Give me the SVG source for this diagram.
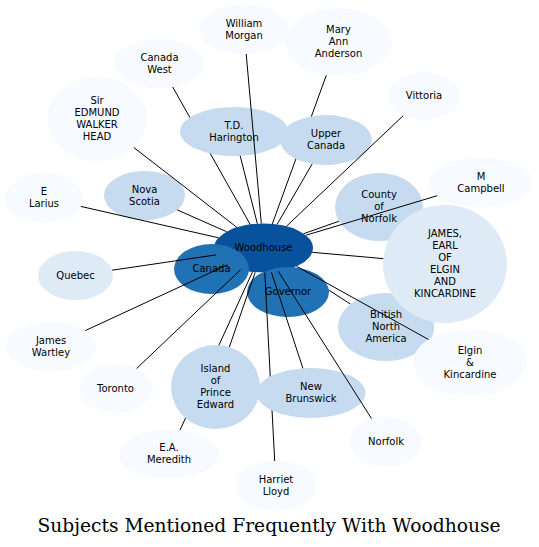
<svg xmlns="http://www.w3.org/2000/svg" width="539" height="547" viewBox="0 0 539 547">
<style>
  .lbl { font-family: "DejaVu Sans", "Noto Sans", sans-serif; font-size: 10px; text-anchor: middle; fill: #000000; }
  .title { font-family: "DejaVu Serif", "Liberation Serif", serif; font-size: 18.67px; text-anchor: middle; fill: #000000; }
  .edges path { stroke: #000000; stroke-width: 1; fill: none; }
  .c0 { fill: #f7fbff; }
  .c1 { fill: #deebf7; }
  .c2 { fill: #c6dbef; }
  .c6 { fill: #2171b5; }
  .c7 { fill: #08519c; }
</style>
<rect x="0" y="0" width="539" height="547" fill="#ffffff"/>

<g id="node-woodhouse"><ellipse class="c7" cx="263.5" cy="248" rx="49.5" ry="24.5"/><text class="lbl" x="263.5" y="251">Woodhouse</text></g>

<g id="connectors-back" class="edges">
  <path d="M250.2,224.4 L172.7,87.0"/>
  <path d="M272.3,223.9 L326.4,75.1"/>
  <path d="M293.6,267.4 L350.5,304.1"/>
  <path d="M252.5,271.9 L180.0,430.1"/>
</g>

<g id="node-canada"><ellipse class="c6" cx="211.5" cy="269" rx="37.5" ry="25"/><text class="lbl" x="211.5" y="272">Canada</text></g>
<g id="node-governor"><ellipse class="c6" cx="288" cy="292" rx="41" ry="25"/><text class="lbl" x="288" y="295">Governor</text></g>

<g id="connectors-mid" class="edges">
  <path d="M264.8,272.5 L274.7,461.0"/>
</g>

<g id="node-td-harington"><ellipse class="c2" cx="234" cy="131.5" rx="54" ry="24.5"/><text class="lbl"><tspan x="234" y="128.5">T.D.</tspan><tspan x="234" y="140.5">Harington</tspan></text></g>
<g id="node-upper-canada"><ellipse class="c2" cx="326" cy="140" rx="46" ry="25"/><text class="lbl"><tspan x="326" y="137">Upper</tspan><tspan x="326" y="149">Canada</tspan></text></g>
<g id="node-nova-scotia"><ellipse class="c2" cx="144.5" cy="195.5" rx="40.5" ry="24.5"/><text class="lbl"><tspan x="144.5" y="192.5">Nova</tspan><tspan x="144.5" y="204.5">Scotia</tspan></text></g>
<g id="node-county-of-norfolk"><ellipse class="c2" cx="379" cy="207" rx="44" ry="34"/><text class="lbl"><tspan x="379" y="198">County</tspan><tspan x="379" y="210">of</tspan><tspan x="379" y="222">Norfolk</tspan></text></g>
<g id="node-british-north-america"><ellipse class="c2" cx="386" cy="327" rx="48" ry="34"/><text class="lbl"><tspan x="386" y="318">British</tspan><tspan x="386" y="330">North</tspan><tspan x="386" y="342">America</tspan></text></g>
<g id="node-island-of-prince-edward"><ellipse class="c2" cx="215.5" cy="387" rx="44.5" ry="42"/><text class="lbl"><tspan x="215.5" y="372">Island</tspan><tspan x="215.5" y="384">of</tspan><tspan x="215.5" y="396">Prince</tspan><tspan x="215.5" y="408">Edward</tspan></text></g>
<g id="node-new-brunswick"><ellipse class="c2" cx="311" cy="393" rx="54.5" ry="25"/><text class="lbl"><tspan x="311" y="390">New</tspan><tspan x="311" y="402">Brunswick</tspan></text></g>
<g id="node-james-earl-of-elgin"><ellipse class="c1" cx="445" cy="264" rx="62" ry="59"/><text class="lbl"><tspan x="445" y="237">JAMES,</tspan><tspan x="445" y="249">EARL</tspan><tspan x="445" y="261">OF</tspan><tspan x="445" y="273">ELGIN</tspan><tspan x="445" y="285">AND</tspan><tspan x="445" y="297">KINCARDINE</tspan></text></g>
<g id="node-quebec"><ellipse class="c1" cx="75.5" cy="275.5" rx="37.5" ry="24.5"/><text class="lbl" x="75.5" y="278.5">Quebec</text></g>
<g id="node-william-morgan"><ellipse class="c0" cx="244" cy="29.5" rx="45" ry="24.5"/><text class="lbl"><tspan x="244" y="26.5">William</tspan><tspan x="244" y="38.5">Morgan</tspan></text></g>
<g id="node-mary-ann-anderson"><ellipse class="c0" cx="338.5" cy="42" rx="53.5" ry="34"/><text class="lbl"><tspan x="338.5" y="33">Mary</tspan><tspan x="338.5" y="45">Ann</tspan><tspan x="338.5" y="57">Anderson</tspan></text></g>
<g id="node-canada-west"><ellipse class="c0" cx="159.5" cy="63.5" rx="45.5" ry="24.5"/><text class="lbl"><tspan x="159.5" y="60.5">Canada</tspan><tspan x="159.5" y="72.5">West</tspan></text></g>
<g id="node-sir-edmund-walker-head"><ellipse class="c0" cx="97" cy="119" rx="50" ry="42"/><text class="lbl"><tspan x="97" y="104">Sir</tspan><tspan x="97" y="116">EDMUND</tspan><tspan x="97" y="128">WALKER</tspan><tspan x="97" y="140">HEAD</tspan></text></g>
<g id="node-vittoria"><ellipse class="c0" cx="424" cy="96" rx="37" ry="24"/><text class="lbl" x="424" y="99">Vittoria</text></g>
<g id="node-e-larius"><ellipse class="c0" cx="44" cy="198" rx="39" ry="25"/><text class="lbl"><tspan x="44" y="195">E</tspan><tspan x="44" y="207">Larius</tspan></text></g>
<g id="node-m-campbell"><ellipse class="c0" cx="481" cy="182.5" rx="52" ry="24.5"/><text class="lbl"><tspan x="481" y="179.5">M</tspan><tspan x="481" y="191.5">Campbell</tspan></text></g>
<g id="node-james-wartley"><ellipse class="c0" cx="51" cy="346.5" rx="45" ry="24.5"/><text class="lbl"><tspan x="51" y="343.5">James</tspan><tspan x="51" y="355.5">Wartley</tspan></text></g>
<g id="node-toronto"><ellipse class="c0" cx="115.5" cy="388.5" rx="36.5" ry="24.5"/><text class="lbl" x="115.5" y="391.5">Toronto</text></g>
<g id="node-elgin-kincardine"><ellipse class="c0" cx="470" cy="362.5" rx="57" ry="33.5"/><text class="lbl"><tspan x="470" y="353.5">Elgin</tspan><tspan x="470" y="365.5">&amp;</tspan><tspan x="470" y="377.5">Kincardine</tspan></text></g>
<g id="node-ea-meredith"><ellipse class="c0" cx="169" cy="454" rx="50" ry="24.5"/><text class="lbl"><tspan x="169" y="451">E.A.</tspan><tspan x="169" y="463">Meredith</tspan></text></g>
<g id="node-harriet-lloyd"><ellipse class="c0" cx="276" cy="486" rx="41" ry="25"/><text class="lbl"><tspan x="276" y="483">Harriet</tspan><tspan x="276" y="495">Lloyd</tspan></text></g>
<g id="node-norfolk"><ellipse class="c0" cx="386" cy="441.5" rx="36" ry="25"/><text class="lbl" x="386" y="444.5">Norfolk</text></g>

<g id="connectors-front" class="edges">
  <path d="M261.3,223.5 L246.2,54.0"/>
  <path d="M236.9,227.4 L133.8,147.5"/>
  <path d="M257.3,223.7 L240.2,155.8"/>
  <path d="M277.1,224.4 L312.2,163.9"/>
  <path d="M286.4,226.3 L403.1,115.8"/>
  <path d="M226.6,231.7 L177.2,209.9"/>
  <path d="M218.5,237.8 L80.8,206.4"/>
  <path d="M303.7,233.7 L339.0,221.2"/>
  <path d="M305.8,235.3 L437.2,195.7"/>
  <path d="M312.2,252.3 L383.3,258.6"/>
  <path d="M216.0,254.9 L112.1,270.2"/>
  <path d="M227.4,264.8 L85.3,330.6"/>
  <path d="M240.6,269.7 L136.6,368.5"/>
  <path d="M255.2,272.2 L229.3,347.1"/>
  <path d="M271.4,272.2 L302.9,368.3"/>
  <path d="M278.3,271.4 L371.5,418.6"/>
  <path d="M296.5,266.3 L428.5,339.5"/>
</g>

<text class="title" x="269" y="531.5">Subjects Mentioned Frequently With Woodhouse</text>
</svg>
